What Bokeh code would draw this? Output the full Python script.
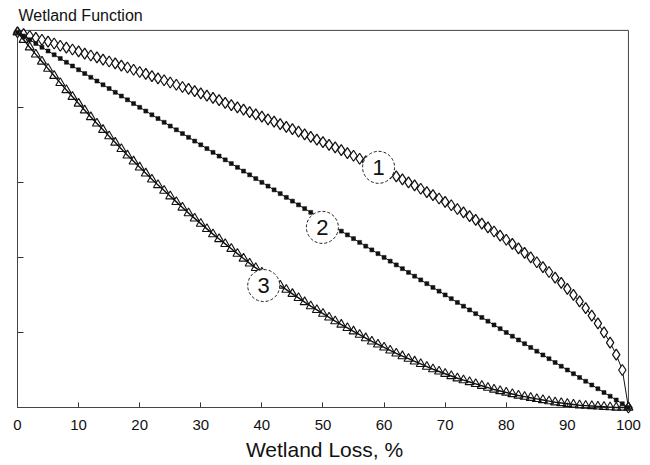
from bokeh.plotting import figure
from bokeh.models import Range1d, FixedTicker, ColumnDataSource, CustomJSTickFormatter
from bokeh.core.properties import value
from bokeh.embed import file_html
from bokeh.resources import INLINE

# ---- data ----
loss = [0, 1, 2, 3, 4, 5, 6, 7, 8, 9,
        10, 11, 12, 13, 14, 15, 16, 17, 18, 19,
        20, 21, 22, 23, 24, 25, 26, 27, 28, 29,
        30, 31, 32, 33, 34, 35, 36, 37, 38, 39,
        40, 41, 42, 43, 44, 45, 46, 47, 48, 49,
        50, 51, 52, 53, 54, 55, 56, 57, 58, 59,
        60, 61, 62, 63, 64, 65, 66, 67, 68, 69,
        70, 71, 72, 73, 74, 75, 76, 77, 78, 79,
        80, 81, 82, 83, 84, 85, 86, 87, 88, 89,
        90, 91, 92, 93, 94, 95, 96, 97, 98, 99,
        100]

curve1 = [100, 99.5, 99.0, 98.5, 98.0, 97.5, 97.0, 96.4, 95.9, 95.4,
          94.9, 94.3, 93.8, 93.3, 92.7, 92.2, 91.7, 91.1, 90.6, 90.0,
          89.4, 88.9, 88.3, 87.7, 87.2, 86.6, 86.0, 85.4, 84.9, 84.3,
          83.7, 83.1, 82.5, 81.9, 81.2, 80.6, 80.0, 79.4, 78.7, 78.1,
          77.5, 76.8, 76.2, 75.5, 74.8, 74.2, 73.5, 72.8, 72.1, 71.4,
          70.7, 70.0, 69.3, 68.6, 67.8, 67.1, 66.3, 65.6, 64.8, 64.0,
          63.2, 62.4, 61.6, 60.8, 60.0, 59.2, 58.3, 57.4, 56.6, 55.7,
          54.8, 53.9, 52.9, 52.0, 51.0, 50.0, 49.0, 48.0, 46.9, 45.8,
          44.7, 43.6, 42.4, 41.2, 40.0, 38.7, 37.4, 36.1, 34.6, 33.2,
          31.6, 30.0, 28.3, 26.5, 24.5, 22.4, 20.0, 17.3, 14.1, 10.0,
          0]

curve2 = [100, 99, 98, 97, 96, 95, 94, 93, 92, 91,
          90, 89, 88, 87, 86, 85, 84, 83, 82, 81,
          80, 79, 78, 77, 76, 75, 74, 73, 72, 71,
          70, 69, 68, 67, 66, 65, 64, 63, 62, 61,
          60, 59, 58, 57, 56, 55, 54, 53, 52, 51,
          50, 49, 48, 47, 46, 45, 44, 43, 42, 41,
          40, 39, 38, 37, 36, 35, 34, 33, 32, 31,
          30, 29, 28, 27, 26, 25, 24, 23, 22, 21,
          20, 19, 18, 17, 16, 15, 14, 13, 12, 11,
          10, 9, 8, 7, 6, 5, 4, 3, 2, 1,
          0]

curve3 = [100, 98.0, 96.0, 94.1, 92.2, 90.3, 88.4, 86.5, 84.6, 82.8,
          81.0, 79.2, 77.4, 75.7, 74.0, 72.3, 70.6, 68.9, 67.2, 65.6,
          64.0, 62.4, 60.8, 59.3, 57.8, 56.3, 54.8, 53.3, 51.8, 50.4,
          49.0, 47.6, 46.2, 44.9, 43.6, 42.3, 41.0, 39.7, 38.4, 37.2,
          36.0, 34.8, 33.6, 32.5, 31.4, 30.3, 29.2, 28.1, 27.0, 26.0,
          25.0, 24.0, 23.0, 22.1, 21.2, 20.3, 19.4, 18.5, 17.6, 16.8,
          16.0, 15.2, 14.4, 13.7, 13.0, 12.3, 11.6, 10.9, 10.2, 9.6,
          9.0, 8.4, 7.8, 7.3, 6.8, 6.3, 5.8, 5.3, 4.8, 4.4,
          4.0, 3.6, 3.2, 2.9, 2.6, 2.3, 2.0, 1.7, 1.4, 1.2,
          1.0, 0.8, 0.6, 0.5, 0.4, 0.3, 0.2, 0.1, 0.0, 0.0,
          0]

x_ticks = [0, 10, 20, 30, 40, 50, 60, 70, 80, 90, 100]
y_ticks = [20, 40, 60, 80]

label_text = ["1", "2", "3"]
label_x = [59.1, 49.9, 40.3]
label_y = [64.0, 48.0, 32.5]

title_text = "Wetland Function"
x_title = "Wetland Loss, %"

FONT = "Liberation Sans"
INK = "#111111"

p = figure(width=650, height=465,
           x_range=Range1d(0, 100.5), y_range=Range1d(0, 101),
           output_backend="svg", toolbar_location=None,
           title=title_text, title_location="above",
           min_border_left=17, min_border_right=19, min_border_top=28,
           min_border_bottom=58)
p.outline_line_color = None
p.grid.visible = False
p.background_fill_color = "white"

p.title.align = "left"
p.title.offset = 1
p.title.standoff = 9
p.title.text_font = FONT
p.title.text_font_size = "16px"
p.title.text_font_style = "normal"
p.title.text_color = INK

# frame (top and right sides)
p.quad(left=[0], right=[100], bottom=[0], top=[100.5], fill_color=None,
       line_color="#444444", line_width=1, level="overlay")

# x axis
xa = p.xaxis[0]
xa.ticker = FixedTicker(ticks=x_ticks)
xa.major_tick_in = 5
xa.major_tick_out = 0
xa.minor_tick_line_color = None
xa.axis_line_color = "#333333"
xa.major_tick_line_color = "#333333"
xa.major_label_text_font = FONT
xa.major_label_text_font_size = "15px"
xa.major_label_text_color = INK
xa.major_label_standoff = 12
xa.axis_label = x_title
xa.axis_label_text_font = FONT
xa.axis_label_text_font_size = "21px"
xa.axis_label_text_font_style = "normal"
xa.axis_label_text_color = INK
xa.axis_label_standoff = 5

# y axis, ticks only
ya = p.yaxis[0]
ya.ticker = FixedTicker(ticks=y_ticks)
ya.major_tick_in = 6
ya.major_tick_out = 0
ya.minor_tick_line_color = None
ya.axis_line_color = "#333333"
ya.major_tick_line_color = "#333333"
ya.formatter = CustomJSTickFormatter(code="return '';")
ya.major_label_standoff = 0

# curves
r = [
    p.line(loss, curve1, line_color=INK, line_width=1),
    p.scatter(loss, curve1, marker="diamond", size=11, fill_color="white",
              line_color=INK, line_width=1.2),
    p.line(loss, curve2, line_color=INK, line_width=1),
    p.scatter(loss, curve2, marker="square", size=4, fill_color=INK,
              line_color=INK, line_width=0.5),
    p.line(loss, curve3, line_color=INK, line_width=1.4),
    p.scatter(loss, curve3, marker="triangle", size=9, fill_color=None,
              line_color=INK, line_width=1.1),
]
for g in r:
    g.level = "overlay"

# circled labels
src = ColumnDataSource(dict(x=label_x, y=label_y, t=label_text))
c = p.scatter("x", "y", source=src, marker="circle", size=32, fill_color="white",
              line_color="#222222", line_width=1, line_dash="3 2")
t = p.text("x", "y", text="t", source=src, text_font=value(FONT),
           text_font_size="22px", text_align="center", text_baseline="middle",
           text_color=INK)
c.level = "overlay"
t.level = "overlay"

open("out.html", "w").write(file_html(p, INLINE))
